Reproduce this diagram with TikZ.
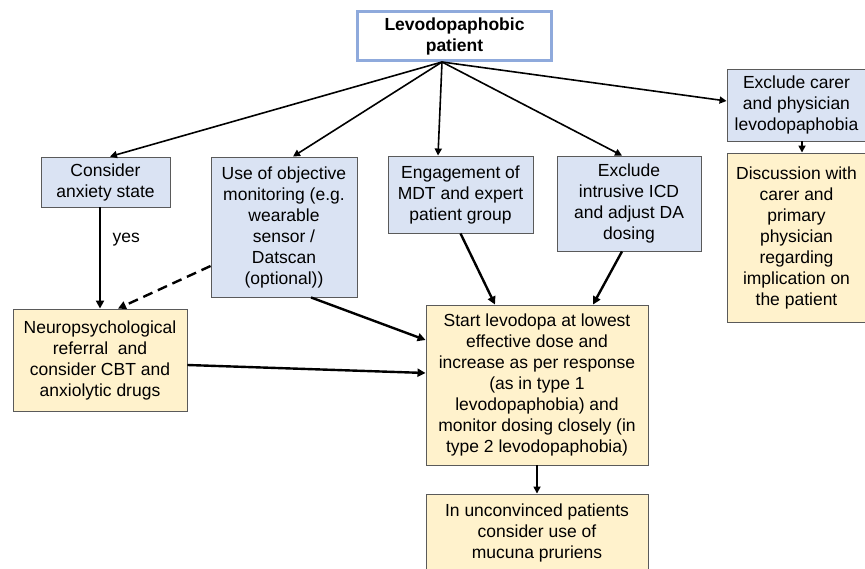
\documentclass[tikz,border=0pt]{standalone}
\usepackage{fontspec}
\setmainfont{Liberation Sans}
\usetikzlibrary{arrows.meta,calc}
\definecolor{bluefill}{HTML}{DAE3F3}
\definecolor{yellowfill}{HTML}{FFF2CC}
\definecolor{topborder}{HTML}{8FAADC}
\definecolor{boxborder}{HTML}{5A5A5A}
\begin{document}
\begin{tikzpicture}[x=1pt,y=-1pt,
 box/.style={draw=boxborder, line width=0.9pt, align=center, inner sep=0pt, font=\fontsize{17.5}{21}\selectfont},
 bluebox/.style={box, fill=bluefill},
 yellowbox/.style={box, fill=yellowfill},
 arr/.style={-{Triangle[length=7pt,width=7pt]}, line width=1.6pt},
 thickarr/.style={-{Triangle[length=8pt,width=8pt]}, line width=2.4pt},
]
\useasboundingbox (0,0) rectangle (865,569);
\fill[white] (0,0) rectangle (865,569);

\node[box, draw=topborder, line width=3.4pt, fill=white, font=\fontsize{17.5}{21}\selectfont\bfseries,
  minimum width=194pt, minimum height=49pt] (top) at (454.5,36) {Levodopaphobic\\patient};
\coordinate (apex) at (442,62);

\node[bluebox, minimum width=129pt, minimum height=50pt] (cons) at (105.5,182) {Consider\\anxiety state};
\node[bluebox, minimum width=146pt, minimum height=140pt] (obj) at (284,227) {Use of objective\\monitoring (e.g.\\wearable\\sensor /\\Datscan\\(optional))};
\node[bluebox, minimum width=145pt, minimum height=77pt] (eng) at (460.5,194.5) {Engagement of\\MDT and expert\\patient group};
\node[bluebox, minimum width=144pt, minimum height=95pt] (icd) at (629,203.5) {Exclude\\intrusive ICD\\and adjust DA\\dosing};
\node[bluebox, minimum width=139pt, minimum height=72pt] (carer) at (796.5,105) {Exclude carer\\and physician\\levodopaphobia};
\node[yellowbox, minimum width=139pt, minimum height=169pt] (disc) at (796.5,237.5) {Discussion with\\carer and\\primary\\physician\\regarding\\implication on\\the patient};
\node[yellowbox, minimum width=174pt, minimum height=102pt] (neuro) at (100,360) {Neuropsychological\\referral\ \ and\\consider CBT and\\anxiolytic drugs};
\node[yellowbox, minimum width=222pt, minimum height=160pt] (start) at (537,385) {Start levodopa at lowest\\effective dose and\\increase as per response\\(as in type 1\\levodopaphobia) and\\monitor dosing closely (in\\type 2 levodopaphobia)};
\node[yellowbox, minimum width=222pt, minimum height=78pt] (unconv) at (537,533) {In unconvinced patients\\consider use of\\mucuna pruriens};

\draw[arr] (apex) -- ($(cons.north)+(4.5,0)$);
\draw[arr] (apex) -- ($(obj.north)+(9,0)$);
\draw[arr] (apex) -- ($(eng.north)+(-22.5,0)$);
\draw[arr] (apex) -- ($(icd.north)+(-7,0)$);
\draw[arr] (apex) -- ($(carer.west)+(0,-4)$);
\draw[arr] ($(carer.south)+(5.5,0)$) -- ($(disc.north)+(5.5,0)$);

\draw[thickarr] (cons.south -| neuro.north) -- node[right=8pt, font=\fontsize{17.5}{21}\selectfont, pos=0.32] (yes) {yes} (neuro.north);
\draw[thickarr, dash pattern=on 10pt off 6pt] ($(obj.west)+(0,39)$) -- ($(neuro.north)+(18,0)$);
\draw[thickarr] ($(obj.south)+(27,0)$) -- ($(start.west)+(0,-45)$);
\draw[thickarr] ($(neuro.east)+(0,5)$) -- ($(start.west)+(0,-12)$);
\draw[thickarr] (eng.south) -- ($(start.north)+(-42,0)$);
\draw[thickarr] ($(icd.south)+(-7,0)$) -- ($(start.north)+(56,0)$);
\draw[arr] (start.south) -- (unconv.north);
\end{tikzpicture}
\end{document}
